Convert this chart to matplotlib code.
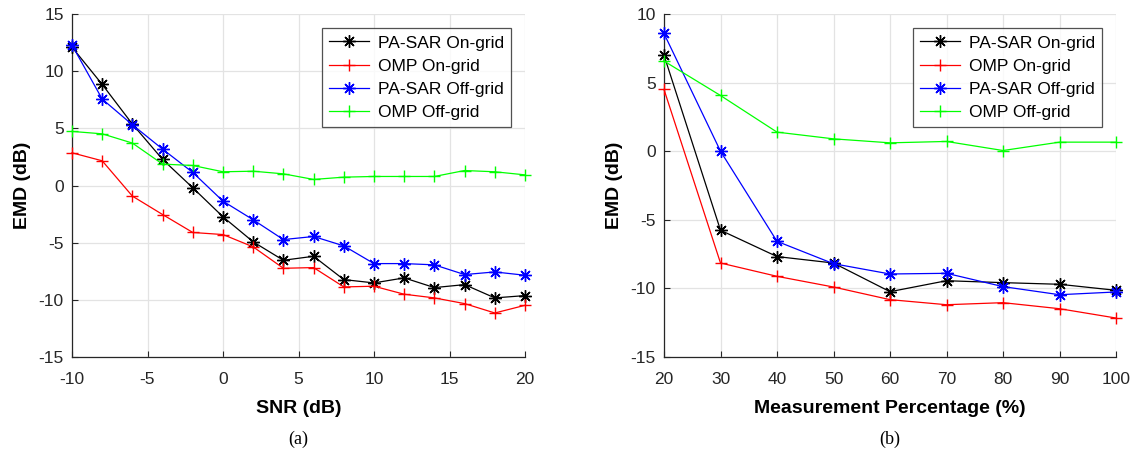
import matplotlib
matplotlib.use("Agg")
import matplotlib.pyplot as plt

# ---- data ----
snr = [-10, -8, -6, -4, -2, 0, 2, 4, 6, 8, 10, 12, 14, 16, 18, 20]
a_pasar_on = [12.1, 8.84, 5.37, 2.28, -0.2, -2.74, -4.93, -6.54, -6.19, -8.23, -8.52, -8.08, -8.93, -8.67, -9.83, -9.63]
a_omp_on = [2.86, 2.16, -0.93, -2.54, -4.11, -4.29, -5.37, -7.24, -7.18, -8.87, -8.81, -9.51, -9.83, -10.33, -11.15, -10.48]
a_pasar_off = [12.28, 7.56, 5.31, 3.18, 1.14, -1.37, -3.0, -4.73, -4.46, -5.28, -6.83, -6.83, -6.94, -7.79, -7.56, -7.85]
a_omp_off = [4.73, 4.52, 3.71, 1.87, 1.75, 1.2, 1.25, 1.02, 0.53, 0.73, 0.79, 0.79, 0.79, 1.31, 1.2, 0.93]

pct = [20, 30, 40, 50, 60, 70, 80, 90, 100]
b_pasar_on = [7.0, -5.76, -7.68, -8.15, -10.24, -9.44, -9.58, -9.70, -10.14]
b_omp_on = [4.5, -8.15, -9.12, -9.9, -10.82, -11.19, -11.04, -11.48, -12.16]
b_pasar_off = [8.58, 0.0, -6.57, -8.2, -8.95, -8.9, -9.87, -10.46, -10.26]
b_omp_off = [6.57, 4.06, 1.39, 0.9, 0.61, 0.71, 0.05, 0.66, 0.66]

labels = ["PA-SAR On-grid", "OMP On-grid", "PA-SAR Off-grid", "OMP Off-grid"]
a_xticks = [-10, -5, 0, 5, 10, 15, 20]
a_yticks = [-15, -10, -5, 0, 5, 10, 15]
b_xticks = [20, 30, 40, 50, 60, 70, 80, 90, 100]
b_yticks = [-15, -10, -5, 0, 5, 10]

plt.rcParams['font.family'] = ['Liberation Sans', 'DejaVu Sans']
plt.rcParams['axes.unicode_minus'] = False

fig = plt.figure(figsize=(11.35, 4.54), dpi=100)
W, H = 1135, 454

ASTER = (8, 2, 0)
styles = [dict(color='black', marker=ASTER), dict(color='red', marker='+'),
          dict(color='blue', marker=ASTER), dict(color='#00ff00', marker='+')]


def setup(ax, x, series, xticks, yticks, xlim, ylim, xlabel, caption, leg_anchor):
    for s, st, lab in zip(series, styles, labels):
        ax.plot(x, s, color=st['color'], marker=st['marker'], lw=0.9,
                markersize=9, markeredgewidth=1.0, label=lab, clip_on=False, zorder=3)
    ax.set_xlim(*xlim)
    ax.set_ylim(*ylim)
    ax.set_xticks(xticks)
    ax.set_yticks(yticks)
    ax.grid(True, color='#e3e3e3', lw=0.9, zorder=0)
    ax.set_axisbelow(True)
    for sp in ['top', 'right']:
        ax.spines[sp].set_visible(False)
    for sp in ['left', 'bottom']:
        ax.spines[sp].set_color('#262626')
        ax.spines[sp].set_linewidth(0.9)
    ax.tick_params(direction='in', length=4, width=0.8, labelsize=12.5,
                   colors='#262626')
    ax.tick_params(axis='x', pad=10.5)
    ax.tick_params(axis='y', pad=6)
    ax.set_xlabel(xlabel, fontsize=14, fontweight='bold', labelpad=10)
    ax.set_ylabel('EMD (dB)', fontsize=14, fontweight='bold', labelpad=5)
    ax.text(0.5, -0.24, caption, transform=ax.transAxes, ha='center', va='center',
            fontsize=13, family=['Liberation Serif', 'DejaVu Serif'])
    leg = ax.legend(loc='upper right', bbox_to_anchor=leg_anchor, borderaxespad=0,
                    fontsize=12.5, frameon=True, fancybox=False, handlelength=2.3,
                    handletextpad=0.5, borderpad=0.42, labelspacing=0.46)
    leg.get_frame().set_edgecolor('#262626')
    leg.get_frame().set_linewidth(0.9)


ax1 = fig.add_axes([72 / W, 97 / H, 453 / W, 343 / H])
setup(ax1, snr, [a_pasar_on, a_omp_on, a_pasar_off, a_omp_off], a_xticks, a_yticks,
      (-10, 20), (-15, 15), 'SNR (dB)', '(a)', (0.969, 0.959))

ax2 = fig.add_axes([664 / W, 97 / H, 452 / W, 343 / H])
setup(ax2, pct, [b_pasar_on, b_omp_on, b_pasar_off, b_omp_off], b_xticks, b_yticks,
      (20, 100), (-15, 10), 'Measurement Percentage (%)', '(b)', (0.969, 0.959))

fig.savefig('out.png', dpi=100)
